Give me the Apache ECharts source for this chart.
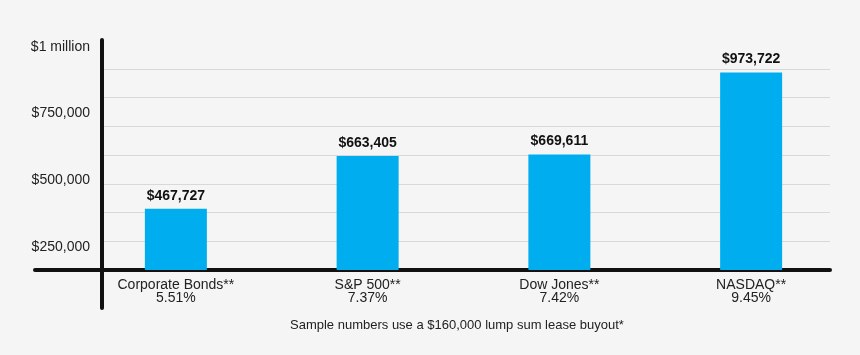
<!DOCTYPE html>
<html>
<head>
<meta charset="utf-8">
<script src="https://cdn.jsdelivr.net/npm/echarts@6/dist/echarts.min.js"></script>
<style>
html,body{margin:0;padding:0;background:#f5f5f5;}
#c{width:860px;height:355px;}
</style>
</head>
<body>
<div id="c"></div>
<script>
var categories = ['Corporate Bonds**', 'S&P 500**', 'Dow Jones**', 'NASDAQ**'];
var rates = ['5.51%', '7.37%', '7.42%', '9.45%'];
var values = [467727, 663405, 669611, 973722];
var tickValues = [0, 250000, 500000, 750000, 1000000];
var tickLabels = ['', '$250,000', '$500,000', '$750,000', '$1 million'];
var footnote = 'Sample numbers use a $160,000 lump sum lease buyout*';

var FONT = '"Liberation Sans", Arial, sans-serif';
var chart = echarts.init(document.getElementById('c'), null, {renderer: 'canvas'});

function fmtMoney(v) {
  return '$' + v.toString().replace(/\B(?=(\d{3})+(?!\d))/g, ',');
}

var option = {
  backgroundColor: '#f5f5f5',
  animation: false,
  title: {
    text: footnote,
    left: 290,
    top: 319,
    padding: 0,
    textStyle: {fontFamily: FONT, fontSize: 13, fontWeight: 'normal', color: '#222'}
  },
  grid: [
    // 0: bars
    {left: 80, right: 13, top: 40, bottom: 85},
    // 1: gridlines
    {left: 102, right: 30, top: 69, bottom: 85},
    // 2: horizontal axis line
    {left: 35, right: 30, top: 40, bottom: 85},
    // 3: vertical axis line
    {left: 101.5, right: 30, top: 40, bottom: 47},
    // 4: tick labels
    {left: 101.5, right: 30, top: 46.7, bottom: 41.7}
  ],
  xAxis: [
    {
      gridIndex: 0, type: 'category', data: categories,
      axisLine: {show: false}, axisTick: {show: false},
      axisLabel: {
        margin: 9, fontFamily: FONT, fontSize: 14, color: '#222', lineHeight: 13,
        formatter: function (v, i) { return v + '\n' + rates[i]; }
      }
    },
    {gridIndex: 1, type: 'value', show: false, min: 0, max: 1},
    {gridIndex: 2, type: 'value', min: 0, max: 1, axisLine: {show: true, onZero: false, lineStyle: {color: '#111', width: 4}}, axisTick: {show: false}, axisLabel: {show: false}, splitLine: {show: false}},
    {gridIndex: 3, type: 'value', show: false, min: 0, max: 1},
    {gridIndex: 4, type: 'value', show: false, min: 0, max: 1}
  ],
  yAxis: [
    {gridIndex: 0, type: 'value', show: false, min: 240000, max: 1095000},
    {gridIndex: 1, type: 'value', min: 0, max: 7, interval: 1,
      axisLine: {show: false}, axisTick: {show: false}, axisLabel: {show: false},
      splitLine: {show: true, lineStyle: {color: '#d8d8d8', width: 1}}},
    {gridIndex: 2, type: 'value', show: false, min: 0, max: 1},
    {gridIndex: 3, type: 'value', min: 0, max: 1,
      axisLine: {show: true, onZero: false, lineStyle: {color: '#111', width: 4}},
      axisTick: {show: false}, axisLabel: {show: false}, splitLine: {show: false}},
    {gridIndex: 4, type: 'value', min: tickValues[0], max: tickValues[tickValues.length - 1], interval: 250000,
      axisLine: {show: false}, axisTick: {show: false}, splitLine: {show: false},
      axisLabel: {
        margin: 11.5, fontFamily: FONT, fontSize: 14, color: '#222',
        formatter: function (v) { var i = tickValues.indexOf(v); return i >= 0 ? tickLabels[i] : ''; }
      }}
  ],
  series: [{
    type: 'bar',
    xAxisIndex: 0, yAxisIndex: 0,
    data: values,
    barWidth: 62,
    itemStyle: {color: '#00aeef'},
    label: {
      show: true, position: 'top', distance: 6,
      fontFamily: FONT, fontSize: 14, fontWeight: 'bold', color: '#111',
      formatter: function (p) { return fmtMoney(p.value); }
    }
  }]
};
chart.setOption(option);
</script>
</body>
</html>
